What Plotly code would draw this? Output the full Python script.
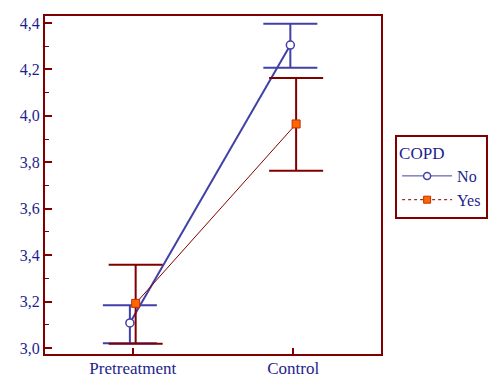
import plotly.graph_objects as go

# ---- data ----
categories = ['Pretreatment', 'Control']
no_mean = [3.108, 4.305]
no_upper = [3.184, 4.397]
no_lower = [3.020, 4.207]
yes_mean = [3.192, 3.965]
yes_upper = [3.358, 4.163]
yes_lower = [3.018, 3.763]

BLUE = '#4040A8'
RED = '#800000'
NAVY = '#1E1E8C'
FONT = 'Liberation Serif'

pos = list(range(len(categories)))
dodge = 0.018


def err(mean, upper, lower):
    return dict(type='data', symmetric=False,
                array=[u - m for u, m in zip(upper, mean)],
                arrayminus=[m - l for m, l in zip(mean, lower)])


fig = go.Figure()

# No
fig.add_trace(go.Scatter(
    x=[p - dodge for p in pos], y=no_mean, mode='lines+markers',
    line=dict(color=BLUE, width=2),
    marker=dict(symbol='circle', size=8, color='white', line=dict(color=BLUE, width=1.5)),
    error_y=dict(**err(no_mean, no_upper, no_lower), color=BLUE, thickness=2, width=27),
    showlegend=False))

# Yes
fig.add_trace(go.Scatter(
    x=[p + dodge for p in pos], y=yes_mean, mode='lines+markers',
    line=dict(color=RED, width=1),
    marker=dict(symbol='square', size=8, color='#FF6600', line=dict(color='#C03000', width=1)),
    error_y=dict(**err(yes_mean, yes_upper, yes_lower), color=RED, thickness=2, width=27),
    showlegend=False))

# legend entries
fig.add_trace(go.Scatter(
    x=[None], y=[None], mode='lines+markers', name='No',
    line=dict(color=BLUE, width=1),
    marker=dict(symbol='circle', size=7, color='white', line=dict(color=BLUE, width=1.5))))
fig.add_trace(go.Scatter(
    x=[None], y=[None], mode='lines+markers', name='Yes',
    line=dict(color=RED, width=1, dash='dot'),
    marker=dict(symbol='square', size=7, color='#FF6600', line=dict(color='#C03000', width=1))))

fig.update_layout(
    width=495, height=377,
    margin=dict(l=45, r=114, t=16, b=23, autoexpand=False),
    plot_bgcolor='white', paper_bgcolor='white',
    separators=', ',
    font=dict(family=FONT, size=17, color=NAVY),
    legend=dict(x=1.042, xanchor='left', y=0.524, yanchor='middle',
                bordercolor=RED, borderwidth=2, bgcolor='white',
                title=dict(text='COPD', font=dict(family=FONT, size=17, color=NAVY)),
                font=dict(family=FONT, size=16, color=NAVY),
                itemwidth=50, tracegroupgap=0),
    xaxis=dict(range=[-0.547, 1.547], tickvals=pos, ticktext=categories,
               showgrid=False, zeroline=False, automargin=False,
               showline=True, mirror=True, linecolor=RED, linewidth=2,
               ticks='inside', ticklen=6, tickwidth=2, tickcolor=RED,
               tickfont=dict(size=17), ticklabelstandoff=-2),
    yaxis=dict(range=[2.974, 4.430], dtick=0.2, tick0=3.0, tickformat='.1f',
               showgrid=False, zeroline=False, automargin=False,
               showline=True, mirror=True, linecolor=RED, linewidth=2,
               ticks='inside', ticklen=7, tickwidth=2, tickcolor=RED,
               tickfont=dict(size=16),
               minor=dict(dtick=0.1, ticks='inside', ticklen=4, tickwidth=1, tickcolor=RED)),
)

# the page body has a default 8px margin; drop it so the figure sits at 0,0
fig.write_html("out.html", config={'displayModeBar': False},
               post_script="document.body.style.margin='0';")
